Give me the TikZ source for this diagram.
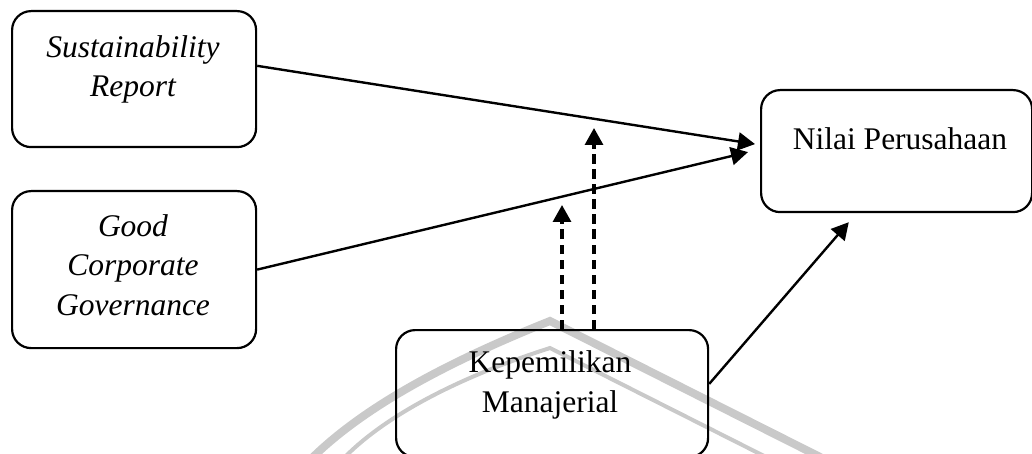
\documentclass[tikz,border=0pt]{standalone}
\usepackage{fontspec}
\setmainfont{Liberation Serif}
\usetikzlibrary{arrows.meta,calc}

\begin{document}
\begin{tikzpicture}[x=1pt,y=-1pt,
  box/.style={draw,line width=2.2pt,rounded corners=19pt,inner sep=0pt,anchor=north west},
  lbl/.style={align=center,font=\fontsize{31.5}{39.5}\selectfont,inner sep=0pt,anchor=base},
  link/.style={line width=2.4pt,-{Triangle[length=17pt,width=18pt]}},
  modlink/.style={line width=3.2pt,dash pattern=on 9.5pt off 5.5pt,-{Triangle[length=17pt,width=18pt]}},
  emblem/.style={draw=black!21,line cap=butt}
]
\useasboundingbox (0,0) rectangle (1032,454);
\clip (0,0) rectangle (1032,454);

% faint background emblem
\draw[emblem,line width=8pt] (310,460) .. controls (360,410) and (440,365) .. (550,321) -- (826,460);
\draw[emblem,line width=4pt] (342,460) .. controls (380,420) and (450,380) .. (550,348) -- (772,460);

% boxes
\node[box,minimum width=244pt,minimum height=136pt] (SR) at (11,10) {};
\node[box,minimum width=244pt,minimum height=157pt] (GCG) at (11,190) {};
\node[box,minimum width=271pt,minimum height=122pt] (NP) at (760,89) {};
\node[box,minimum width=312pt,minimum height=127pt] (KM) at (395,329) {};

% labels (anchored on the baseline of the last line)
\node[lbl] (tSR) at (133,97) {\itshape Sustainability\\\itshape Report};
\node[lbl] (tGCG) at (133,315) {\itshape Good\\\itshape Corporate\\\itshape Governance};
\node[lbl] (tNP) at (900,150) {Nilai Perusahaan};
\node[lbl] (tKM) at (550,412) {Kepemilikan\\Manajerial};

% direct effects
\draw[link] ($(SR.north east)!0.404!(SR.south east)$) -- ($(NP.west)+(-5,-7)$);
\draw[link] (GCG.east) -- ($(NP.west)+(-12,1)$);
\draw[link] ($(KM.north east)!0.425!(KM.south east)$) -- ($(NP.south west)!0.325!(NP.south east)+(0,9)$);

% moderating effects
\coordinate (m1) at (562,205);
\coordinate (m2) at (594,128);
\draw[modlink] (m1 |- KM.north) -- (m1);
\draw[modlink] (m2 |- KM.north) -- (m2);
\end{tikzpicture}
\end{document}
